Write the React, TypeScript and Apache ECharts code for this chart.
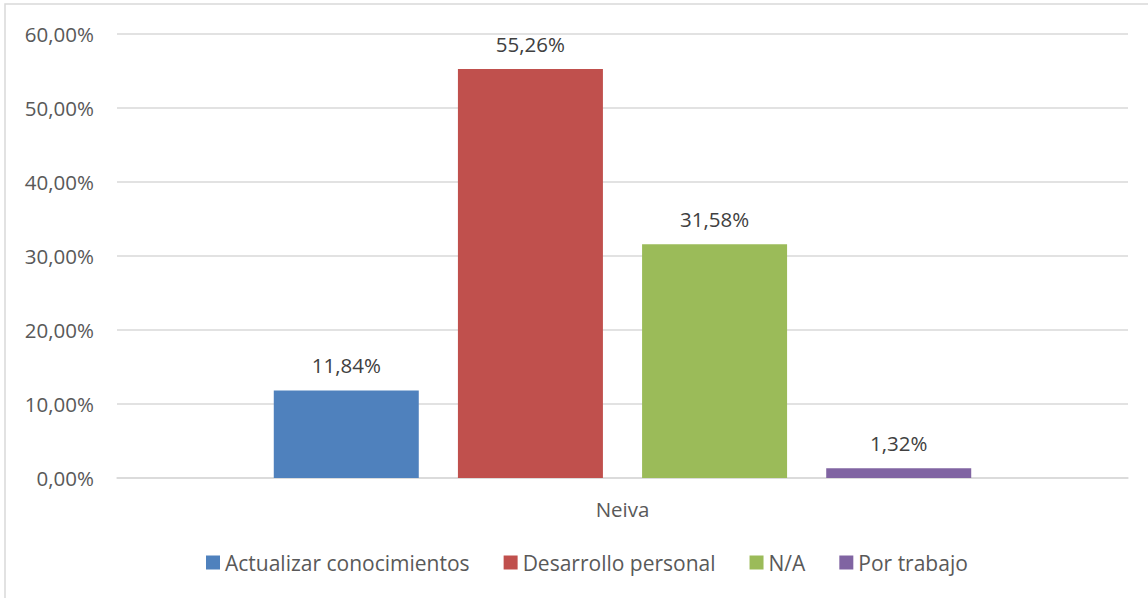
import React, { useEffect, useRef } from "react";
import * as echarts from "echarts";

const categories = ["Neiva"];
const seriesNames = ["Actualizar conocimientos", "Desarrollo personal", "N/A", "Por trabajo"];
const seriesValues = [[11.84], [55.26], [31.58], [1.32]];
const colors = ["#4f81bd", "#c0504d", "#9bbb59", "#8064a2"];
const yTicks = { min: 0, max: 60, interval: 10 };

const FONT = "'Open Sans', 'Noto Sans', sans-serif";
const fmt = (v: number) => v.toFixed(2).replace(".", ",") + "%";

export default function App() {
  const ref = useRef<HTMLDivElement>(null);
  useEffect(() => {
    if (!ref.current) return;
    const chart = echarts.init(ref.current, null, { renderer: "svg" });
    chart.setOption({
      animation: false,
      backgroundColor: "#ffffff",
      textStyle: { fontFamily: FONT },
      graphic: [
        {
          type: "rect",
          shape: { x: 5, y: 4, width: 1160, height: 620 },
          style: { fill: "none", stroke: "#d9d9d9", lineWidth: 1.5 },
          silent: true,
        },
      ],
      grid: { left: 117, right: 20, top: 34, bottom: 120, containLabel: false },
      legend: {
        bottom: 20,
        left: 201,
        itemWidth: 14,
        itemHeight: 14,
        itemGap: 34,
        icon: "rect",
        textStyle: { fontFamily: FONT, fontSize: 21, color: "#595959" },
        data: seriesNames,
      },
      xAxis: {
        type: "category",
        data: categories,
        axisLine: { show: true, lineStyle: { color: "#d9d9d9", width: 1.5 } },
        axisTick: { show: false },
        axisLabel: { fontFamily: FONT, fontSize: 20.5, color: "#595959", margin: 20 },
      },
      yAxis: {
        type: "value",
        min: yTicks.min,
        max: yTicks.max,
        interval: yTicks.interval,
        axisLine: { show: false },
        axisTick: { show: false },
        splitLine: { lineStyle: { color: "#d9d9d9", width: 1.5 } },
        axisLabel: {
          fontFamily: FONT,
          fontSize: 20.5,
          color: "#595959",
          margin: 23,
          formatter: (v: number) => fmt(v),
        },
      },
      series: seriesNames.map((name, i) => ({
        name,
        type: "bar",
        data: seriesValues[i],
        barWidth: 145,
        barGap: "27%",
        itemStyle: { color: colors[i] },
        label: {
          show: true,
          position: "top",
          distance: 15,
          fontFamily: FONT,
          fontSize: 20.5,
          color: "#404040",
          formatter: (p: any) => fmt(p.value),
        },
      })),
    });
    return () => chart.dispose();
  }, []);
  return (
    <div
      ref={ref}
      style={{ position: "fixed", left: 0, top: 0, width: 1148, height: 598 }}
    />
  );
}
